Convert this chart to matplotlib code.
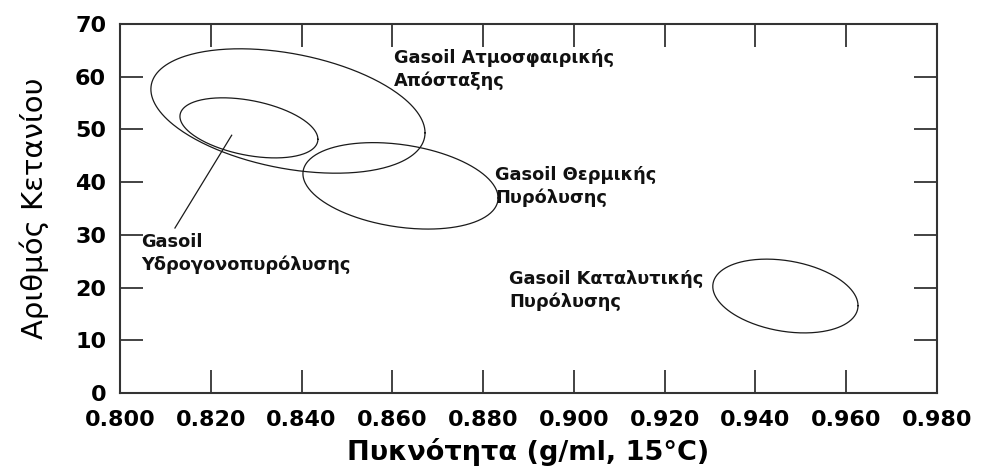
import numpy as np
import matplotlib
matplotlib.use('Agg')
import matplotlib.pyplot as plt

# Gasoil regions: density (g/ml, 15C) vs cetane number
regions = [
    "Gasoil Ατμοσφαιρικής\nΑπόσταξης",
    "Gasoil\nΥδρογονοπυρόλυσης",
    "Gasoil Θερμικής\nΠυρόλυσης",
    "Gasoil Καταλυτικής\nΠυρόλυσης",
]
density_center = [0.8370, 0.8284, 0.8618, 0.9466]
cetane_center = [53.5, 50.3, 39.3, 18.4]
density_halfwidth = [0.0302, 0.0152, 0.0215, 0.0160]
cetane_halfwidth = [11.8, 5.7, 8.2, 7.0]
tilt = [-0.35, -0.38, -0.28, -0.26]

x_ticks = [0.800, 0.820, 0.840, 0.860, 0.880, 0.900, 0.920, 0.940, 0.960, 0.980]
y_ticks = [0, 10, 20, 30, 40, 50, 60, 70]

plt.rcParams['font.family'] = ['DejaVu Sans']

fig = plt.figure(figsize=(9.83, 4.70), dpi=100)
ax = fig.add_axes([0.1221, 0.1638, 0.8311, 0.7851])

t = np.linspace(0, 2 * np.pi, 300)
for cx, cy, rx, ry, rho in zip(density_center, cetane_center,
                               density_halfwidth, cetane_halfwidth, tilt):
    xs = cx + rx * np.cos(t)
    ys = cy + ry * (rho * np.cos(t) + np.sqrt(1 - rho ** 2) * np.sin(t))
    ax.plot(xs, ys, color='#1a1a1a', lw=0.9)

# leader line for the hydrocracking label
ax.plot([0.8246, 0.8121], [48.9, 31.3], color='#1a1a1a', lw=0.9)

# label placement (left edge, vertical centre of the two-line block)
label_pos = [(0.8604, 61.3), (0.8046, 26.4), (0.8826, 39.2), (0.8857, 19.4)]
for text, (lx, ly) in zip(regions, label_pos):
    ax.text(lx, ly, text, fontsize=12.8, fontweight='bold', ha='left', va='center',
            linespacing=1.3, color='#111111')

ax.set_xlim(0.800, 0.980)
ax.set_ylim(0, 70)
ax.set_xticks(x_ticks)
ax.set_yticks(y_ticks)
ax.set_xticklabels([f"{v:.3f}" for v in x_ticks])
ax.set_yticklabels([str(v) for v in y_ticks])
ax.tick_params(direction='in', length=16.5, width=1.2, color='#222222',
               top=True, right=True, labelsize=16)
ax.tick_params(axis='x', pad=12)
ax.tick_params(axis='y', pad=10)
for lab in ax.get_xticklabels() + ax.get_yticklabels():
    lab.set_fontweight('bold')
for sp in ax.spines.values():
    sp.set_linewidth(1.5)
    sp.set_color('#333333')

ax.set_xlabel("Πυκνότητα (g/ml, 15°C)", fontsize=19.5, fontweight='bold',
              labelpad=6)
ax.set_ylabel("Αριθμός Κετανίου", fontsize=21, labelpad=19)

fig.savefig("out.png", dpi=100)
